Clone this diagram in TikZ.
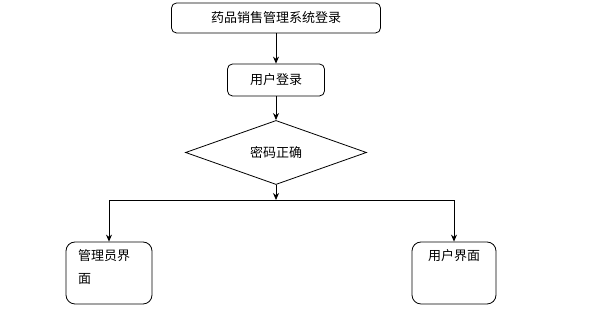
\documentclass[tikz,border=0pt]{standalone}
\usepackage{fontspec}
\newfontfamily\cjk{Noto Sans CJK SC}
\usetikzlibrary{arrows.meta,positioning,shapes.geometric}
\tikzset{
  >={Stealth[length=7pt,width=6pt]},
  font=\cjk\fontsize{13}{16}\selectfont,
  box/.style={draw,line width=0.8pt,rounded corners=5pt,align=center,inner sep=0pt},
  check/.style={draw,line width=0.8pt,diamond,inner sep=0pt,
                minimum width=181pt,minimum height=51pt},
  panel/.style={draw,line width=0.8pt,rounded corners=9pt,minimum width=86pt,
                minimum height=62pt,inner sep=0pt},
  flow/.style={->,line width=0.8pt},
}
\begin{document}
\begin{tikzpicture}[x=1pt,y=1pt]
  \useasboundingbox (0,0) rectangle (603,328);
  \node[box,minimum width=209pt,minimum height=30pt] (title) at (276,310) {药品销售管理系统登录};
  \node[box,minimum width=97pt,minimum height=32pt] (login) at (276,248) {用户登录};
  \node[check] (pwd) at (276,175.5) {密码正确};
  \coordinate (split) at (276,128);
  \node[panel] (admin) at (109,55)
    {\parbox[t][46pt][t]{62pt}{\baselineskip=23pt 管理员界\\面}};
  \node[panel,minimum width=84pt] (user) at (454,55)
    {\parbox[t][46pt][t]{70pt}{\centering 用户界面}};

  \draw[flow] (title) -- (login);
  \draw[flow] (login) -- (pwd);
  \draw[flow] (pwd) -- (split);
  % branch to the two interfaces
  \draw[flow] (split) -| (admin);
  \draw[flow] (split) -| (user);
\end{tikzpicture}
\end{document}
